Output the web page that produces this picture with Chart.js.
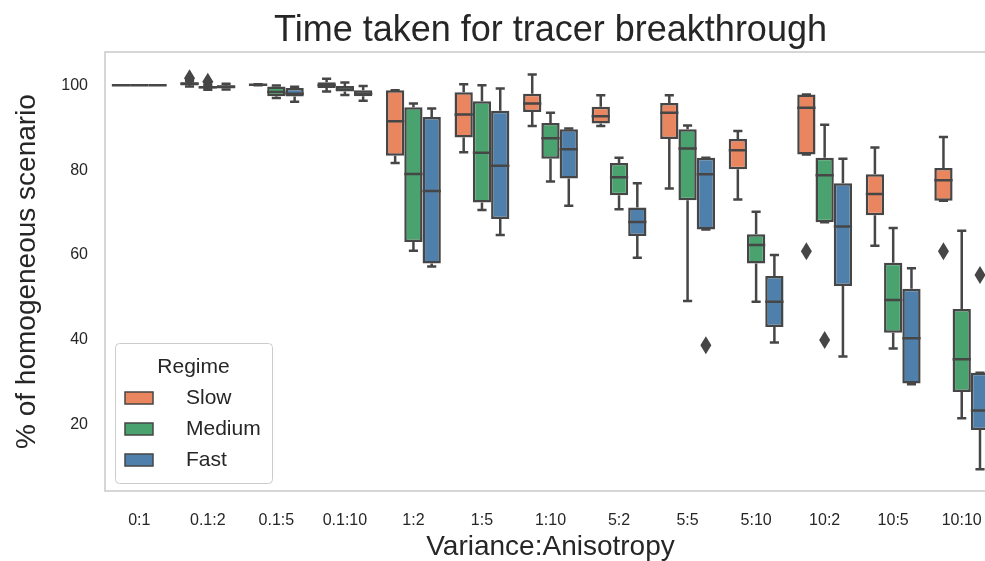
<!DOCTYPE html>
<html>
<head>
<meta charset="utf-8">
<script src="https://cdn.jsdelivr.net/npm/chart.js@4.4.0/dist/chart.umd.min.js"></script>
<style>
  html, body { margin: 0; padding: 0; background: #fff; overflow: hidden; }
  #wrap { position: relative; width: 1010px; height: 561px; }
</style>
</head>
<body>
<div id="wrap"><canvas id="chart"></canvas></div>
<script>
const categories = ["0:1", "0.1:2", "0.1:5", "0.1:10", "1:2", "1:5", "1:10", "5:2", "5:5", "5:10", "10:2", "10:5", "10:10"];
const regimes = ["Slow", "Medium", "Fast"];
const regimeColors = ["#E9865F", "#4AA36E", "#4F80AB"];
const yTicks = [20, 40, 60, 80, 100];

// [whisker low, q1, median, q3, whisker high]
const slowBoxes = [
    [100, 100, 100, 100, 100],
    [99.7, 99.9, 100.3, 100.7, 101.0],
    [100.0, 100.1, 100.1, 100.2, 100.2],
    [98.5, 99.3, 100.0, 100.7, 101.5],
    [81.7, 83.4, 91.5, 98.8, 98.8],
    [84.2, 87.7, 93.1, 98.3, 100.2],
    [90.4, 93.7, 95.7, 98.0, 102.5],
    [90.4, 91.0, 92.7, 94.9, 97.6],
    [75.7, 87.3, 93.5, 95.8, 97.6],
    [73.1, 80.2, 84.7, 87.3, 89.2],
    [83.7, 83.7, 94.7, 97.8, 97.8],
    [62.2, 69.4, 74.4, 79.0, 85.3],
    [72.8, 72.8, 77.6, 80.5, 87.8]
];
const mediumBoxes = [
    [100, 100, 100, 100, 100],
    [98.9, 99.2, 99.5, 99.8, 100.0],
    [97.0, 97.4, 98.4, 99.7, 99.9],
    [97.7, 98.5, 99.0, 99.8, 100.6],
    [61.0, 63.1, 79.1, 94.8, 95.7],
    [70.6, 72.4, 84.1, 96.2, 100.0],
    [77.3, 82.7, 87.5, 91.1, 93.5],
    [70.8, 74.1, 78.3, 81.7, 82.9],
    [49.2, 72.9, 85.1, 89.6, 90.5],
    [49.0, 58.0, 62.4, 64.9, 70.2],
    [67.7, 67.7, 78.8, 82.9, 90.7],
    [38.0, 41.7, 49.4, 58.2, 66.4],
    [21.6, 27.8, 35.5, 47.3, 65.7]
];
const fastBoxes = [
    [100, 100, 100, 100, 100],
    [99.0, 99.2, 99.6, 100.0, 100.3],
    [96.1, 97.3, 98.0, 99.3, 99.6],
    [96.3, 97.4, 98.0, 98.8, 99.8],
    [57.3, 58.0, 75.1, 92.5, 94.5],
    [64.7, 68.5, 81.0, 94.0, 99.2],
    [71.6, 78.0, 84.9, 89.6, 89.8],
    [59.4, 64.5, 67.8, 71.2, 76.9],
    [66.0, 66.0, 79.0, 82.9, 82.9],
    [39.4, 43.1, 49.0, 55.1, 60.0],
    [36.1, 52.7, 66.7, 76.9, 82.7],
    [29.6, 29.8, 40.4, 52.1, 56.9],
    [9.6, 18.8, 23.4, 32.3, 32.3]
];

// [category index, value]
const slowOutliers = [[1, 101.6], [10, 60.9], [12, 60.9]];
const mediumOutliers = [[1, 100.8], [10, 40.0]];
const fastOutliers = [[8, 38.8], [12, 55.3]];

const boxSets = [slowBoxes, mediumBoxes, fastBoxes];
const outlierSets = [slowOutliers, mediumOutliers, fastOutliers];
const edge = "#464646";
const font = "'Liberation Sans', Arial, sans-serif";
const textColor = "#262626";

let datasets = regimes.map((name, i) => ({
    label: name,
    data: boxSets[i].map(b => [b[1], b[3]]),
    backgroundColor: regimeColors[i],
    borderColor: edge,
    borderWidth: 2.5,
    borderSkipped: false,
    categoryPercentage: 0.8,
    barPercentage: 1.0
}));

// whiskers, caps, medians and outlier diamonds, placed with the bar elements and the y scale
const boxParts = {
    id: "boxParts",
    beforeDatasetsDraw(chart) {
        const ctx = chart.ctx, a = chart.chartArea;
        ctx.save();
        ctx.strokeStyle = "#cccccc";
        ctx.lineWidth = 1.6;
        ctx.strokeRect(a.left, a.top, a.right - a.left, a.bottom - a.top);
        ctx.restore();
    },
    afterDatasetsDraw(chart) {
        const ctx = chart.ctx, y = chart.scales.y;
        ctx.save();
        ctx.strokeStyle = edge;
        ctx.fillStyle = edge;
        ctx.lineWidth = 2.5;
        regimes.forEach((name, i) => {
            const bars = chart.getDatasetMeta(i).data;
            bars.forEach((bar, j) => {
                const [lo, q1, med, q3, hi] = boxSets[i][j];
                const half = bar.width / 2, cap = bar.width / 4;
                const pLo = y.getPixelForValue(lo), pHi = y.getPixelForValue(hi);
                const pMed = y.getPixelForValue(med);
                ctx.beginPath();
                ctx.moveTo(bar.x, y.getPixelForValue(q1));
                ctx.lineTo(bar.x, pLo);
                ctx.moveTo(bar.x, y.getPixelForValue(q3));
                ctx.lineTo(bar.x, pHi);
                ctx.moveTo(bar.x - cap, pLo);
                ctx.lineTo(bar.x + cap, pLo);
                ctx.moveTo(bar.x - cap, pHi);
                ctx.lineTo(bar.x + cap, pHi);
                ctx.moveTo(bar.x - half, pMed);
                ctx.lineTo(bar.x + half, pMed);
                ctx.stroke();
            });
            outlierSets[i].forEach(o => {
                const px = bars[o[0]].x, py = y.getPixelForValue(o[1]);
                ctx.beginPath();
                ctx.moveTo(px, py - 9);
                ctx.lineTo(px + 5.5, py);
                ctx.lineTo(px, py + 9);
                ctx.lineTo(px - 5.5, py);
                ctx.closePath();
                ctx.fill();
            });
        });
        ctx.restore();
    },
    afterDraw(chart) {
        const ctx = chart.ctx, a = chart.chartArea;
        ctx.save();
        // title
        ctx.fillStyle = textColor;
        ctx.font = "36px " + font;
        ctx.textAlign = "center";
        ctx.textBaseline = "middle";
        ctx.fillText("Time taken for tracer breakthrough", (a.left + a.right) / 2, 31);

        // legend
        const lx = a.left + 10, lw = 157, lh = 140, ly = a.bottom - 8 - lh;
        ctx.beginPath();
        ctx.roundRect(lx + 0.5, ly + 0.5, lw, lh, 4);
        ctx.fillStyle = "rgba(255,255,255,0.8)";
        ctx.fill();
        ctx.strokeStyle = "#cccccc";
        ctx.lineWidth = 1;
        ctx.stroke();
        ctx.fillStyle = textColor;
        ctx.font = "21px " + font;
        ctx.fillText("Regime", lx + lw / 2, ly + 24);
        ctx.textAlign = "left";
        regimes.forEach((name, i) => {
            const cy = ly + 55 + i * 31;
            ctx.fillStyle = regimeColors[i];
            ctx.fillRect(lx + 10, cy - 6, 28, 12);
            ctx.strokeStyle = edge;
            ctx.lineWidth = 1.5;
            ctx.strokeRect(lx + 10, cy - 6, 28, 12);
            ctx.fillStyle = textColor;
            ctx.fillText(name, lx + 71, cy);
        });
        ctx.restore();
    }
};

new Chart("chart", {
    type: "bar",
    data: {labels: categories, datasets: datasets},
    options: {
        responsive: true,
        maintainAspectRatio: false,
        animation: false,
        devicePixelRatio: 1,
        layout: {padding: {left: 0, right: 14, top: 52, bottom: 0}},
        plugins: {legend: {display: false}, tooltip: {enabled: false}, title: {display: false}},
        scales: {
            x: {
                grid: {display: false, drawTicks: false},
                border: {display: false},
                ticks: {padding: 20, color: textColor, font: {size: 16, family: font}, autoSkip: false, maxRotation: 0},
                title: {display: true, text: "Variance:Anisotropy", color: textColor, font: {size: 28, family: font, lineHeight: 0.95}, padding: 0},
                afterFit: s => { s.height = 70; }
            },
            y: {
                min: 4.47,
                max: 107.8,
                afterBuildTicks: s => { s.ticks = yTicks.map(v => ({value: v})); },
                grid: {display: false, drawTicks: false},
                border: {display: false},
                ticks: {padding: 17, color: textColor, font: {size: 16, family: font}},
                title: {display: true, text: "% of homogeneous scenario", color: textColor, font: {size: 28, family: font}, padding: {top: 10, bottom: 0}},
                afterFit: s => { s.width = 105; }
            }
        }
    },
    plugins: [boxParts]
});
</script>
</body>
</html>
